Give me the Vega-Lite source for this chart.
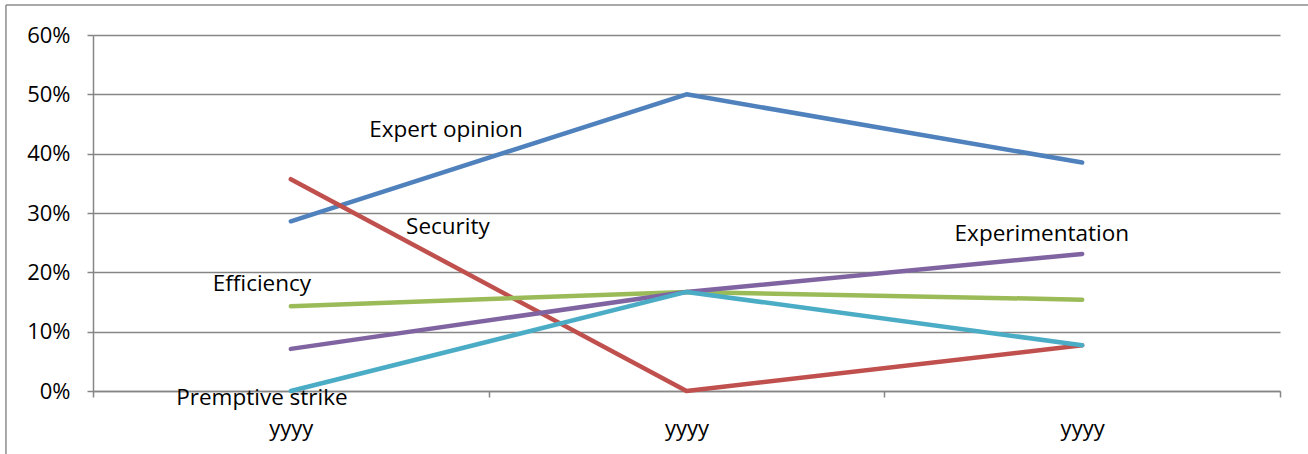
{
  "$schema": "https://vega.github.io/schema/vega-lite/v6.json",
  "width": 1187,
  "height": 356,
  "autosize": "none",
  "padding": {"left": 93, "top": 35, "right": 28, "bottom": 63},
  "background": "white",
  "config": {
    "view": {"stroke": null},
    "font": "Open Sans"
  },
  "datasets": {
    "lines": [
      {"series": "Expert opinion", "pos": 0.5, "share": 0.286},
      {"series": "Expert opinion", "pos": 1.5, "share": 0.5},
      {"series": "Expert opinion", "pos": 2.5, "share": 0.385},
      {"series": "Security", "pos": 0.5, "share": 0.357},
      {"series": "Security", "pos": 1.5, "share": 0.0},
      {"series": "Security", "pos": 2.5, "share": 0.077},
      {"series": "Efficiency", "pos": 0.5, "share": 0.143},
      {"series": "Efficiency", "pos": 1.5, "share": 0.167},
      {"series": "Efficiency", "pos": 2.5, "share": 0.154},
      {"series": "Experimentation", "pos": 0.5, "share": 0.071},
      {"series": "Experimentation", "pos": 1.5, "share": 0.167},
      {"series": "Experimentation", "pos": 2.5, "share": 0.231},
      {"series": "Premptive strike", "pos": 0.5, "share": 0.0},
      {"series": "Premptive strike", "pos": 1.5, "share": 0.167},
      {"series": "Premptive strike", "pos": 2.5, "share": 0.077}
    ],
    "labels": [
      {"label": "Expert opinion", "pos": 0.892, "share": 0.44},
      {"label": "Security", "pos": 0.897, "share": 0.276},
      {"label": "Efficiency", "pos": 0.427, "share": 0.18},
      {"label": "Experimentation", "pos": 2.398, "share": 0.265},
      {"label": "Premptive strike", "pos": 0.427, "share": -0.012}
    ],
    "frame": [
      {"x1": -0.22, "x2": 3.08, "y1": 0.6506, "y2": 0.6506},
      {"x1": -0.22, "x2": -0.22, "y1": 0.6506, "y2": -0.11}
    ]
  },
  "layer": [
    {
      "data": {"name": "frame"},
      "mark": {"type": "rule", "color": "#8c8c8c", "strokeWidth": 1.5, "clip": false},
      "encoding": {
        "x": {"field": "x1", "type": "quantitative"},
        "x2": {"field": "x2"},
        "y": {"field": "y1", "type": "quantitative"},
        "y2": {"field": "y2"}
      }
    },
    {
      "data": {"name": "lines"},
      "mark": {"type": "line", "strokeWidth": 4.5, "strokeCap": "round", "strokeJoin": "round"},
      "encoding": {
        "x": {
          "field": "pos", "type": "quantitative",
          "scale": {"domain": [0, 3], "nice": false, "zero": false},
          "axis": {
            "title": null, "grid": false,
            "values": [0, 0.5, 1, 1.5, 2, 2.5, 3],
            "labelExpr": "datum.value % 1 === 0.5 ? 'yyyy' : ''",
            "tickOpacity": {"condition": {"test": "datum.value % 1 !== 0", "value": 0}, "value": 1},
            "tickSize": 6, "tickWidth": 1.5, "tickColor": "#868686",
            "domainColor": "#868686", "domainWidth": 1.5,
            "labelFontSize": 22, "labelColor": "#000000", "labelPadding": 21,
            "labelFlush": false, "labelOverlap": false, "labelBound": false
          }
        },
        "y": {
          "field": "share", "type": "quantitative",
          "scale": {"domain": [0, 0.6], "nice": false},
          "axis": {
            "title": null, "format": ".0%",
            "values": [0, 0.1, 0.2, 0.3, 0.4, 0.5, 0.6],
            "grid": true, "gridColor": "#868686", "gridWidth": 1.5,
            "tickSize": 6, "tickWidth": 1.5, "tickColor": "#868686",
            "domainColor": "#868686", "domainWidth": 1.5,
            "labelFontSize": 22, "labelColor": "#000000", "labelPadding": 17
          }
        },
        "color": {
          "field": "series", "type": "nominal",
          "scale": {
            "domain": ["Expert opinion", "Security", "Efficiency", "Experimentation", "Premptive strike"],
            "range": ["#4F81BD", "#C0504D", "#9BBB59", "#8064A2", "#4BACC6"]
          },
          "legend": null
        }
      }
    },
    {
      "data": {"name": "labels"},
      "mark": {"type": "text", "fontSize": 22.5, "color": "#000000", "align": "center", "baseline": "middle"},
      "encoding": {
        "x": {"field": "pos", "type": "quantitative"},
        "y": {"field": "share", "type": "quantitative"},
        "text": {"field": "label"}
      }
    }
  ]
}
